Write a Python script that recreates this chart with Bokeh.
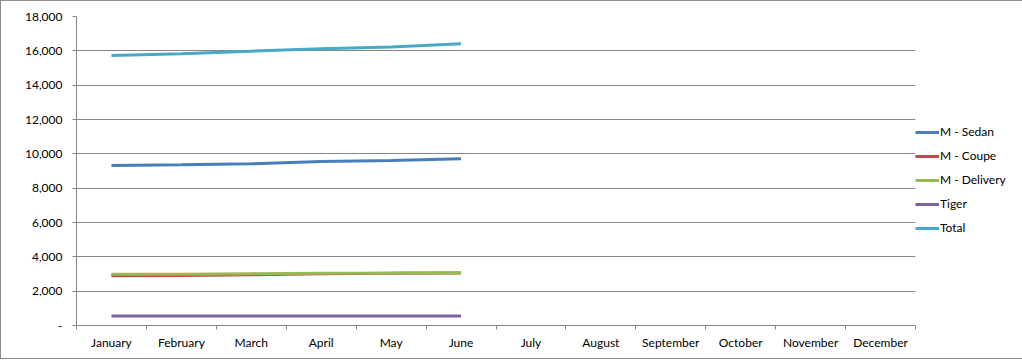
from bokeh.plotting import figure
from bokeh.models import (FixedTicker, NumeralTickFormatter, Legend, LegendItem,
                          Range1d)
from bokeh.embed import file_html
from bokeh.resources import INLINE

months = ["January", "February", "March", "April", "May", "June", "July",
          "August", "September", "October", "November", "December"]
data_months = ["January", "February", "March", "April", "May", "June"]
sedan = [9320, 9360, 9420, 9550, 9610, 9710]
coupe = [2900, 2910, 2960, 3020, 3040, 3060]
delivery = [2980, 2990, 3020, 3050, 3060, 3080]
tiger = [550, 550, 550, 550, 550, 550]
total = [15730, 15830, 15980, 16120, 16220, 16410]
y_ticks = [0, 2000, 4000, 6000, 8000, 10000, 12000, 14000, 16000, 18000]

series = [
    ("M - Sedan", sedan, "#4A7EBB"),
    ("M - Coupe", coupe, "#BE4B48"),
    ("M - Delivery", delivery, "#98B954"),
    ("Tiger", tiger, "#7D60A0"),
    ("Total", total, "#46AAC5"),
]

FONT = "Lato"
GRAY = "#868686"

p = figure(frame_width=839, frame_height=309, output_backend="svg",
           toolbar_location=None,
           x_range=Range1d(0, len(months)), y_range=Range1d(0, 18000),
           min_border_left=75, min_border_right=103, min_border_top=15,
           min_border_bottom=33)
p.outline_line_color = None
p.styles = {"border": "1px solid #8c8c8c"}

xs = [months.index(m) + 0.5 for m in data_months]
items = []
for name, vals, col in series:
    r = p.line(xs, vals, line_color=col, line_width=3)
    items.append(LegendItem(label=name, renderers=[r]))

# x axis: labels centred in categories, ticks at category boundaries
p.xaxis.ticker = FixedTicker(ticks=[i + 0.5 for i in range(len(months))],
                             minor_ticks=list(range(len(months) + 1)))
p.xaxis.major_label_overrides = {i + 0.5: m for i, m in enumerate(months)}
p.xaxis.major_tick_out = 0
p.xaxis.major_tick_in = 0
p.xaxis.minor_tick_out = 4
p.xaxis.minor_tick_in = 0
p.xaxis.minor_tick_line_color = GRAY
p.xaxis.axis_line_color = GRAY
p.xaxis.major_label_standoff = 5
p.xgrid.visible = False

p.yaxis.ticker = FixedTicker(ticks=y_ticks)
p.yaxis.formatter = NumeralTickFormatter(format="0,0")
p.yaxis.major_label_overrides = {0: "-"}
p.yaxis.major_tick_out = 4
p.yaxis.major_tick_in = 0
p.yaxis.minor_tick_line_color = None
p.yaxis.major_tick_line_color = GRAY
p.yaxis.axis_line_color = GRAY
p.yaxis.major_label_standoff = 10
p.ygrid.grid_line_color = GRAY
p.ygrid.ticker = FixedTicker(ticks=y_ticks)

for ax in (p.xaxis, p.yaxis):
    ax.major_label_text_font = FONT
    ax.major_label_text_font_size = "12px"
    ax.major_label_text_color = "#000000"

legend = Legend(items=items, location="left", orientation="vertical",
                glyph_width=24, glyph_height=20, spacing=4, padding=0,
                margin=0, label_standoff=1, border_line_color=None,
                background_fill_alpha=0, label_text_font=FONT,
                label_text_font_size="12px", label_text_color="#000000",
                title=" ", title_text_font_size="12px", title_standoff=4)
p.add_layout(legend, "right")

open("out.html", "w").write(file_html(p, INLINE))
